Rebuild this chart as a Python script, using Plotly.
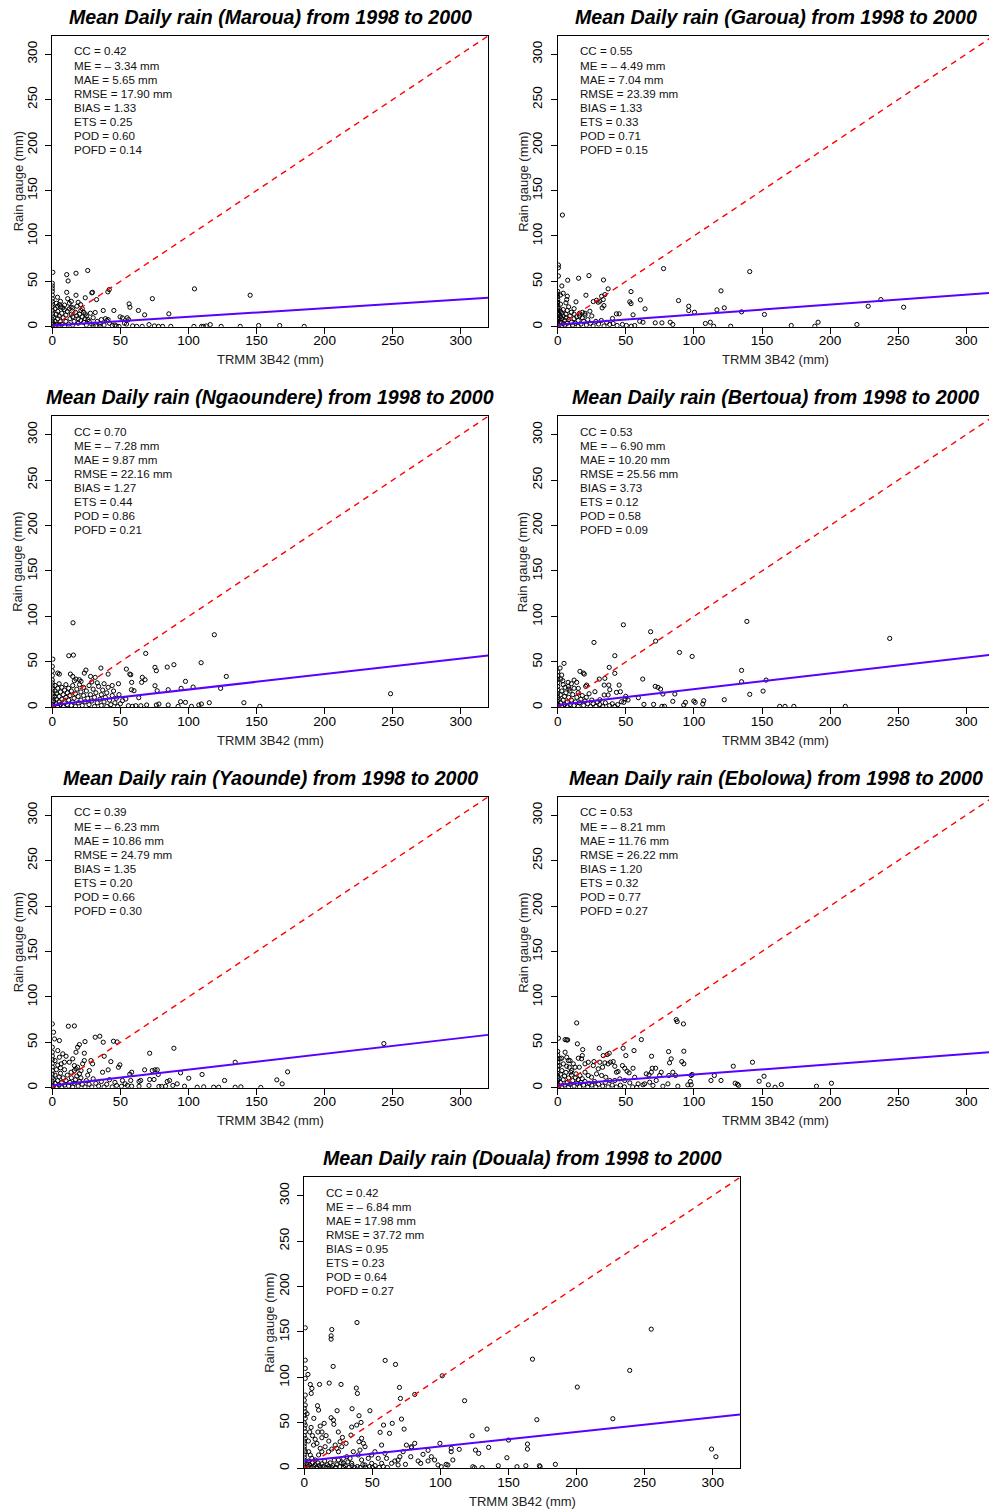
import plotly.graph_objects as go

# ---------------- data ----------------
stations = ["Maroua", "Garoua", "Ngaoundere", "Bertoua", "Yaounde", "Ebolowa", "Douala"]

maroua_pts = [(0.4,60),(10.6,57.5),(17.4,59),(26,62),(11.6,50.5),(0,48),(0,45),(0,42),(3.8,32.6),(10.6,38),(11.3,31),(12.5,26),
    (17.4,34.8),(24.2,32),(29,37.4),(29.5,38),(32.5,30),(41.8,41),(40.8,38.5),(56.4,25.3),(57,21.6),(63.2,18),(73.5,31),(85.6,14.3),
    (104.4,41.8),(145.3,34.8),(67.8,13.2),(49.8,11),(51.5,9.9),(45.2,18),(37.4,18),(31.5,15.8),(26.2,8),(24.2,14.3),(20.8,24.5),
    (18.1,22.7),(15,20.9),(13.8,21.6),(12.5,19.8),(7.7,20.9),(8.9,19),(5.2,24.5),(3.9,22.7),
    (104,0.5),(109.6,0.5),(111,0.5),(113,1),(116,2.5),(124,0.5),(138,0.5),(151.5,1.5),(167,1.5),(185,0.5),(71,2.5),(75,1),(78,0.5),
    (81,0.5),(87,0.5),(53,4),(54.5,3),(59,1),(46,2),(44,1.5),(39,9),(40,7),(41,8),(55,10),(56,8),(62,0.5),(66,0.5),(49,0.5),(35,0.5),(30,1),
    (0,0),(0,2),(0,5),(0,8),(0,12),(0,15),(0,18),(0,22),(0,25),(0,28),(0,31),(0,35),(0,39),(1,3),(1,10),(2,1),(2,6),(3,14),(3,3),(4,9),
    (4,17),(5,2),(5,12),(6,6),(6,28),(7,15),(7,3),(8,10),(9,24),(9,1),(10,6),(10,13),(11,17),(12,3),(13,9),(14,14),(15,2),(15,11),(16,6),
    (17,16),(18,12),(19,4),(19,9),(20,14),(21,7),(21,18),(22,11),(23,16),(23,5),(24,9),(25,2),(25,12),(27,6),(28,15),(29,3),(30,10),
    (32,1),(33,6),(35,3),(36,8),(38,2),(42,4),(47,1),(2,20),(6,22),(3,26),(14,28),(19,27),(22,20)]

garoua_pts = [(3.4,123),(0.5,68),(0.5,65),(0.5,56),(7.3,51.3),(15.3,53.5),(22.9,56.4),(33.6,51.6),(77.7,64.1),(141,60.8),(7,33.7),
    (6.6,30),(6,26.4),(13.4,27.5),(20.7,34.8),(28.5,29.3),(32.2,33.7),(33.4,30),(34.6,35.5),(37,41.8),(30.9,28.2),(29.7,27.1),(32.6,20.9),
    (33.9,23.4),(26.1,27.8),(23.6,17.2),(53.8,38.8),(52.9,27.5),(53.8,25.6),(60.7,29.7),(64.1,19.8),(55.3,13.2),(43.1,14.3),(45.1,14.3),
    (40.2,9.2),(88.7,28.9),(96.2,22.7),(96.2,17.9),(100.4,16.1),(119.9,39.6),(116.9,18.7),(122.3,20.9),(135,16.5),(151.8,13.6),(228,22.7),
    (237.3,30),(254,21.6),(191.2,5.1),(219.7,2.6),(171.5,1.5),(188.8,0.7),(127,0.7),(112,5.1),(108.4,3.7),(114.5,0.7),(82.6,5.1),(84.5,2.6),
    (76.5,4.4),(71.6,4.4),(62.6,5.1),(60.2,6.2),(56.5,1.5),(54,0.7),(50.4,1.5),(47.5,2.6),(43.6,1.5),(40.7,3.7),(38.2,2.6),
    (0,0),(0,3),(0,6),(0,9),(0,12),(0,15),(0,18),(0,21),(0,24),(0,27),(0,30),(0,33),(0,36),(0,39),(1,2),(1,8),(1,14),(1,20),(2,5),(2,11),
    (2,17),(2,25),(3,1),(3,9),(3,15),(4,4),(4,12),(4,19),(5,7),(5,2),(6,14),(6,10),(7,4),(7,18),(8,8),(8,1),(9,12),(10,5),(10,16),(11,2),
    (12,9),(12,14),(13,4),(14,11),(15,7),(15,1),(16,15),(17,3),(18,10),(19,6),(20,13),(21,2),(22,8),(24,4),(25,12),(26,1),(28,6),(30,3),
    (32,7),(34,1),(36,5),(4,37),(2,35),(3,45),(8,22),(12,20),(18,16),(20,15),(16,12)]

ngaoundere_pts = [(15.2,93),(12.1,56.8),(15.5,57.5),(0.4,53),(119,79.9),(68.6,59.3),(109.3,49.1),(75.4,44),(76.4,40.3),(84.4,44.3),
    (89.3,46.9),(54.4,42.1),(56.9,36.6),(57.6,35.9),(35.7,43.2),(24.7,41),(23.5,37.7),(41,36.6),(66.1,33),(68.1,30.4),(65.6,27.5),
    (58.3,27.5),(28.1,34),(31.5,33),(19.9,30.4),(21.1,28.6),(13.3,36.6),(15,34),(16.2,29.3),(17.4,31.1),(4,37.7),(5.2,36.6),(48.6,26),
    (58.1,19.4),(60,18.3),(75.4,23.8),(77,18.3),(85.1,19.4),(94.6,20.9),(97.8,28.6),(103.4,22.3),(123.6,20.9),(127.8,34),(63.5,10.6),
    (54,9.2),(51.5,7.3),(248.4,15),(140.7,5.1),(152.4,1.1),(115.3,5.1),(109.5,3.7),(107.6,2.6),(102.2,1.1),(97.8,5.5),(94.2,6.2),
    (92.4,1.1),(85.1,2.6),(78.3,3.7),(76.4,2.6),(69.3,2.6),(65,1.8),(61.3,1.8),(58.8,1.1),(55.9,1.8),
    (0,0),(0,3),(0,6),(0,9),(0,12),(0,15),(0,18),(0,21),(0,24),(0,27),(0,30),(0,35),(0,40),(0,45),(1,2),(1,7),(2,12),(2,18),(2,24),
    (3,4),(3,9),(3,15),(4,21),(4,1),(5,6),(5,12),(5,26),(6,17),(6,3),(7,9),(7,22),(8,14),(8,1),(9,5),(9,19),(10,11),(10,25),(11,3),
    (11,16),(12,8),(12,21),(13,13),(14,2),(14,18),(15,6),(15,24),(16,10),(17,15),(17,1),(18,20),(19,5),(19,12),(20,25),(21,8),(21,17),
    (22,2),(23,13),(23,22),(24,6),(25,18),(26,10),(27,3),(27,24),(28,14),(29,7),(30,20),(31,1),(31,11),(32,16),(33,5),(34,23),(35,9),
    (36,2),(36,14),(37,19),(38,6),(39,11),(40,1),(40,16),(41,22),(42,8),(43,3),(44,13),(45,18),(46,5),(47,10),(48,1),(49,14),(50,4),
    (44,24),(38,26),(33,27),(29,28)]

bertoua_pts = [(48.2,90.8),(138.9,94.5),(68.2,83.2),(26.6,71.4),(71.9,72.9),(243.8,75.8),(89.4,60.4),(98.7,56),(41.9,56.8),(4.6,48.4),
    (1.7,43.2),(37.8,44),(41.9,37.4),(16.3,39.6),(18.8,37.7),(19.5,36.6),(30.5,31.1),(34.6,31.9),(62.4,31.1),(135,40.7),(135,28.2),
    (153,30),(141,14.3),(150.8,17.9),(122.3,8.4),(107.2,7.3),(106.5,3.7),(100.9,5.5),(99.9,7),(93.8,5.5),(92.5,2.6),(84.5,6.6),(86,14.7),
    (77.2,14.7),(75.5,20.1),(73.6,22),(71.6,23.1),(70.4,3.3),(63.3,3.3),(59.2,10.6),(49.9,12.1),(49.5,9.2),(51.6,8.1),(46.8,6.2),
    (48.5,5.5),(45.1,24.5),(46,17.2),(43.1,16.5),(38.2,19.4),(37,13.6),(27.3,17.2),(30.9,8.4),(34.1,13.6),(34.1,24.5),(37.5,24.5),
    (163,1.1),(166.9,1.1),(173.4,1.1),(211.2,1.1),(78.4,1.1),(76.5,1.1),
    (21.2,24.5),(20.5,23.1),(13.9,27.5),(15.1,20.9),(7.6,27.5),(7.8,23.1),(8.3,20.1),(5.4,22),(3.7,29.3),(2.2,31.1),(2.9,35.5),
    (0,0),(0,3),(0,7),(0,11),(0,15),(0,19),(0,23),(0,27),(0,31),(0,35),(0,39),(1,2),(1,9),(2,5),(2,14),(3,1),(3,18),(4,8),(4,25),
    (5,3),(5,12),(6,16),(7,1),(7,6),(8,11),(9,3),(9,18),(10,8),(11,14),(12,2),(12,21),(13,6),(14,11),(15,1),(15,16),(16,5),(17,9),
    (18,13),(19,2),(20,7),(21,11),(22,4),(23,15),(24,1),(25,8),(26,4),(28,1),(29,6),(31,3),(33,1),(35,5),(38,2),(40,4),(42,1),(44,3),
    (10,26),(12,30)]

yaounde_pts = [(0,70.3),(0.9,61.2),(1.6,53.8),(0,44.7),(0,39.2),(11.8,67.8),(16.2,68.1),(5.2,52),(24,50.9),(19.9,47.6),(18.6,44.7),
    (17.4,39.2),(23.5,38.1),(31.5,55.7),(34.9,56.8),(37.4,50.2),(44.9,51.3),(47.6,50.5),(71.5,38.1),(89.3,43.6),(243.5,48.7),
    (134.3,28.2),(172.8,17.6),(164.9,8.8),(168.8,4.4),(126.5,8.1),(110,14.7),(100.2,10.6),(94.2,16.5),(73.4,19),(75.4,19.8),
    (77.1,19.8),(77.8,14.7),(67.8,19.8),(58.3,17.2),(56.9,15),(71.5,9.2),(74.7,9.2),(64.9,8.1),(63.7,7),(57.6,8.1),(84.4,7),(86.1,8.1),
    (91.7,4.4),(97.1,1.8),(106.4,0.7),(111.2,1.1),(118.5,0.7),(122.2,0.7),(134.3,0.7),(138.5,1.1),(153.1,0.4),(49.6,25.3),(48.6,22.7),
    (43,28.9),(41,19.8),(38.1,34.8),(36.9,17.2),(28.4,30),(29.6,26.4),(27.2,19),(51.5,8.1),(53.5,4.4),(50.8,1.8),(47.2,2.6),(71,2.6),
    (78.3,1.5),(80.3,1.5),(83.2,1.8),(88.5,2.6),(63.7,1.8),(58.3,1.8),(55.2,2.6),
    (23.5,30),(22.3,26.4),(18.6,22.7),(16.2,19),(13.8,17.2),(21.1,19),(19.9,15.4),(4,41),(7.7,37.4),(10.1,34.8),(5.2,33.7),(6.5,26.4),
    (8.9,28.2),(12.5,28.2),(15,31.9),(16.2,24.5),(17.4,20.9),
    (0,0),(0,3),(0,7),(0,11),(0,15),(0,19),(0,23),(0,27),(0,31),(0,35),(1,2),(1,9),(2,5),(2,14),(3,1),(3,20),(4,8),(4,25),(5,3),(5,12),
    (6,16),(7,1),(7,6),(8,11),(9,3),(9,20),(10,8),(11,14),(12,2),(13,6),(14,11),(15,1),(16,5),(17,9),(18,13),(19,2),(20,7),(21,11),
    (22,4),(24,1),(25,8),(26,14),(27,4),(29,1),(30,10),(32,5),(34,2),(36,7),(38,1),(40,4),(42,9),(44,1),(46,6),(2,30),(6,22)]

ebolowa_pts = [(13.9,71.4),(87,75.1),(87.7,72.9),(92.3,70.3),(0.5,54.6),(5.4,53.1),(6.6,52.7),(7.3,52.7),(14.4,48.4),(61.4,53.1),
    (30.5,43.6),(48,43.6),(56,41),(50,35.5),(68.9,34.8),(81.4,39.9),(92.6,40.3),(91.1,28.9),(92.6,26.4),(143,28.2),(128.9,23.8),
    (151.5,12.8),(147.9,7.3),(112.5,8.1),(115,13.6),(119.9,8.1),(97.9,13.6),(98.7,14.7),(190,1.8),(201,5.1),(164.2,3.7),(159.6,0.7),
    (154.7,3.3),(130.3,5.1),(132,4),(132.8,2.6),(97.4,7),(95.5,3.3),(98,3.3),(82.1,27.5),(83.3,31.9),(84.5,17.2),(86.5,13.6),(81.6,13.6),
    (71.9,21.6),(69.4,21.6),(67,14.3),(65,15.4),(68.7,17.2),(76,17.2),(74.8,13.6),(72.3,8.1),(67.5,6.2),(63.8,4.4),(56.5,11.7),
    (55.3,21.6),(50.9,18.3),(52.4,16.5),(49.2,21.6),(47.5,24.5),(40.7,28.9),(41.9,23.8),(43.1,17.2),(44.3,17.9),(38.7,28.2),(37,26.4),
    (37.8,38.1),(36.3,36.6),(33.4,35.5),(34.6,27.5),(32.9,22.7),(30.9,28.2),(29.7,20.9),(26.1,24.5),(26.6,28.9),(22.4,28.2),(20,26.4),
    (18.3,42.1),(18,35.5),(17.5,31.9),(15.1,32.6),(15.8,22.7),(12.7,22.7),(11.4,26.4),(10.2,19),(8.5,22.7),(7.8,30),(6.6,33.7),
    (5.4,39.2),(2.9,32.6),(1.7,31.9),(1.2,24.5),(4.1,26.4),(6.6,23.8),(9,30),(9.5,17.2),(13.4,15.4),(16.3,13.6),(20,17.2),(22.4,13.6),
    (24.8,11.7),(28.5,15.4),(32.2,13.6),(35.3,11.7),(38.2,8.1),(41.9,8.1),(45.6,9.9),(49.2,8.1),(52.9,5.5),(59,4.4),(62.6,3.3),
    (69.9,2.6),(77.2,1.8),(80.9,4.4),(88.2,1.8),
    (0,0),(0,4),(0,8),(0,12),(0,16),(0,20),(0,24),(0,28),(0,32),(0,36),(0,40),(1,2),(1,10),(2,6),(2,15),(3,1),(3,19),(4,9),(5,3),
    (5,13),(6,17),(7,6),(8,1),(8,11),(9,4),(10,14),(11,8),(12,2),(13,11),(14,5),(15,9),(16,1),(17,6),(18,10),(19,3),(20,7),(22,1),
    (23,5),(25,3),(27,7),(28,1),(30,4),(33,2),(35,6),(37,1),(40,3),(43,1),(46,3),(49,1),(55,1),(58,0.5)]

douala_pts = [(0.7,154.6),(38.7,160.4),(20.2,152.7),(19.7,145.8),(19.7,142.1),(254.8,153.1),(167.6,120.1),(239,107.7),(200.5,89.4),
    (226.6,54.6),(170.8,53.5),(117.7,74.4),(101.3,101.8),(81.1,81.3),(59.4,118.7),(67,114.3),(69.9,89),(70.6,76.9),(71.4,54.2),
    (73.3,43.2),(58.2,47.6),(62.6,38.5),(64.6,49.5),(55.7,39.6),(56.8,25.6),(21.2,112.1),(2.7,103.3),(4.4,92.3),(5.6,87.9),(5.1,82.4),
    (11.2,92.3),(18.3,93.8),(27,92.3),(24.1,63.4),(9.7,68.9),(10.5,64.1),(38.2,88.3),(39,82.4),(35.1,65.6),(40.2,57.9),(48.2,63.4),
    (41.7,50.5),(38.5,47.6),(34.8,45.4),(34.3,36.6),(19.7,55.7),(21.4,53.1),(21.7,48.4),(14.6,49.5),(11.7,46.5),(12.9,33.7),(0.7,62.3),
    (0.7,54.9),(0.7,47.6),(0.7,40.3),(0.7,33),(0.7,18.3),(0.7,98.9),(0.7,109.9),(0.7,119),(0.7,80.6),(0.7,69.6),(123.3,35.9),
    (134.2,43.2),(125.7,20.1),(128.1,16.5),(135.4,23.1),(113.8,20.9),(99.6,27.5),(107.9,22),(107.9,18.3),(109.1,9.2),(150,31.1),
    (148.8,11.7),(163.9,26.7),(163.9,21.2),(299.1,21.2),(302.3,12.8),(184.4,4.4),(172.7,2.9),(173.2,1.8),(162.7,2.9),(156.2,1.8),
    (142.5,2.9),(130.6,0.7),(123.8,1.8),(125,0.7),(90.9,19.8),(87.2,15.4),(95.7,9.2),(93.3,12.8),(90.9,8.1),(98.2,3.7),(100.6,1.8),
    (105.5,3.7),(104.2,4.4),(78.7,23.8),(78.7,22.7),(81.1,27.5),(75,25.6),(72.6,18.3),(68.9,9.2),(70.2,12.8),(78.2,12.8),(83.6,8.1),
    (85.5,5.5),(74.3,4.4),(68.9,3.7),(66.5,8.1),(64.1,5.5),
    (42.1,33),(40.2,29.3),(43.4,27.5),(44.6,23.8),(40.9,20.1),(36,18.3),(39.7,14.7),(33.6,11),(31.2,12.8),(28.7,11),(25.1,18.3),
    (27.5,23.8),(30.7,27.5),(26.3,29.3),(22.7,25.6),(23.9,22),(20.2,21.2),(17.8,18.3),(15.3,23.8),(12.9,18.3),(10.5,14.7),(8,9.2),
    (5.6,11),(4.4,14.7),(3.2,18.3),(6.8,25.6),(9.3,27.5),(11.7,22),(25.1,9.2),(28.7,5.5),(34.8,5.5),(42.1,9.2),(47,11),(49.5,14.7),
    (51.9,18.3),(54.3,11),(49.5,5.5),(44.6,3.7),(59.2,16.5),(60.4,11),(56.8,5.5),
    (0,0),(0,3),(0,6),(0,9),(0,12),(0,15),(0,21),(0,24),(0,27),(0,30),(0,36),(0,44),(0,50),(0,58),(0,66),(0,75),(1,1),(2,5),(3,2),
    (3,8),(4,4),(5,1),(6,6),(7,2),(8,4),(9,1),(10,6),(11,3),(12,1),(13,5),(14,2),(15,8),(16,1),(17,4),(18,2),(19,6),(20,1),(21,3),
    (22,9),(23,1),(24,4),(26,2),(27,6),(29,1),(30,3),(32,7),(33,1),(35,3),(37,1),(39,2),(41,1),(43,4),(45,1),(48,2),(50,1),(52,3),
    (55,1),(58,2),(61,1),(4,40),(6,36),(3,30),(8,32),(5,45),(10,40),(2,60),(7,55),(13,40),(16,36),(25,40),(28,34),(18,30)]

# regression line (intercept, slope) per station
fit_intercept = [1.5, 2.5, 2.6, 2.6, 2.6, 3.3, 8.0]
fit_slope = [0.095, 0.11, 0.17, 0.174, 0.174, 0.113, 0.16]
one_to_one = [0, 320]
axis_max = 320

cc = ["0.42", "0.55", "0.70", "0.53", "0.39", "0.53", "0.42"]
me = ["3.34", "4.49", "7.28", "6.90", "6.23", "8.21", "6.84"]
mae = ["5.65", "7.04", "9.87", "10.20", "10.86", "11.76", "17.98"]
rmse = ["17.90", "23.39", "22.16", "25.56", "24.79", "26.22", "37.72"]
bias = ["1.33", "1.33", "1.27", "3.73", "1.35", "1.20", "0.95"]
ets = ["0.25", "0.33", "0.44", "0.12", "0.20", "0.32", "0.23"]
pod = ["0.60", "0.71", "0.86", "0.58", "0.66", "0.77", "0.64"]
pofd = ["0.14", "0.15", "0.21", "0.09", "0.30", "0.27", "0.27"]

tick_vals = [0, 50, 100, 150, 200, 250, 300]
tick_text = ["0", "50", "100", "150", "200", "250", "300"]

all_pts = [maroua_pts, garoua_pts, ngaoundere_pts, bertoua_pts, yaounde_pts, ebolowa_pts, douala_pts]

# ---------------- layout geometry (pixels) ----------------
W, H = 989, 1510
FONT = "Liberation Sans, Arial, Helvetica, sans-serif"
row_top = [36, 417, 798, 1179]
PH = 291.3
PXU = 437.5 / 320.0  # pixels per data unit (x)
panels = [  # (left px, right px (visible), row)
    (48.5, 486.0, 0), (556.0, 989.0, 0),
    (48.5, 486.0, 1), (556.0, 989.0, 1),
    (48.5, 486.0, 2), (556.0, 989.0, 2),
    (301.5, 739.0, 3),
]

fig = go.Figure()
annotations = []
layout_axes = {}

def px2fx(px):
    return px / W

def py2fy(py):
    return 1 - py / H

for i, name in enumerate(stations):
    left, right, row = panels[i]
    top = row_top[row]
    bottom = top + PH
    full_right = left + 437.5
    xr = (right - left) / PXU
    ax = "" if i == 0 else str(i + 1)
    xa, ya = "x" + ax, "y" + ax
    right_cut = right >= W - 0.5

    layout_axes["xaxis" + ax] = dict(
        domain=[px2fx(left), px2fx(right)], anchor=ya, range=[0, xr],
        showgrid=False, zeroline=False, showline=True, linecolor="black", linewidth=1,
        mirror=True, ticks="outside", ticklen=6, tickwidth=1, tickcolor="black",
        tickvals=tick_vals, ticktext=tick_text, ticklabelstandoff=-5,
        tickfont=dict(family=FONT, size=13.6, color="black"),
    )
    layout_axes["yaxis" + ax] = dict(
        domain=[py2fy(bottom), py2fy(top)], anchor=xa, range=[0, axis_max],
        showgrid=False, zeroline=False, showline=True, linecolor="black", linewidth=1,
        mirror=(not right_cut), ticks="outside", ticklen=6, tickwidth=1, tickcolor="black",
        tickvals=tick_vals, ticktext=tick_text, tickangle=-90, ticklabelstandoff=3,
        tickfont=dict(family=FONT, size=13.6, color="black"),
    )

    pts = all_pts[i]
    fig.add_trace(go.Scatter(
        x=[p[0] for p in pts], y=[p[1] for p in pts], mode="markers",
        marker=dict(symbol="circle-open", size=4.2, color="black", line=dict(width=1, color="black")),
        xaxis=xa, yaxis=ya, showlegend=False, hoverinfo="skip",
    ))
    fig.add_trace(go.Scatter(
        x=one_to_one, y=one_to_one, mode="lines",
        line=dict(color="#ff0000", width=1.4, dash="6px,5px"),
        xaxis=xa, yaxis=ya, showlegend=False, hoverinfo="skip",
    ))
    fx = [0, axis_max]
    fy = [fit_intercept[i] + fit_slope[i] * v for v in fx]
    fig.add_trace(go.Scatter(
        x=fx, y=fy, mode="lines", line=dict(color="#5a00ff", width=2),
        xaxis=xa, yaxis=ya, showlegend=False, hoverinfo="skip",
    ))

    cx = (left + full_right) / 2
    # title
    annotations.append(dict(
        text=f"<b><i>Mean Daily rain ({name}) from 1998 to 2000</i></b>",
        x=px2fx(cx), y=py2fy(top - 19), xref="paper", yref="paper",
        xanchor="center", yanchor="middle", showarrow=False,
        font=dict(family=FONT, size=19.6, color="black"),
    ))
    # axis titles
    annotations.append(dict(
        text="TRMM 3B42 (mm)", x=px2fx(cx), y=py2fy(bottom + 33), xref="paper", yref="paper",
        xanchor="center", yanchor="middle", showarrow=False,
        font=dict(family=FONT, size=13, color="#222"),
    ))
    annotations.append(dict(
        text="Rain gauge (mm)", x=px2fx(left - 34.5), y=py2fy((top + bottom) / 2), xref="paper", yref="paper",
        xanchor="center", yanchor="middle", showarrow=False, textangle=-90,
        font=dict(family=FONT, size=13, color="#222"),
    ))
    # stats
    lines = [f"CC = {cc[i]}", f"ME = \u2013 {me[i]} mm", f"MAE = {mae[i]} mm", f"RMSE = {rmse[i]} mm",
             f"BIAS = {bias[i]}", f"ETS = {ets[i]}", f"POD = {pod[i]}", f"POFD = {pofd[i]}"]
    for k, t in enumerate(lines):
        annotations.append(dict(
            text=t, x=px2fx(left + 20), y=py2fy(top + 15 + 14.1 * k), xref="paper", yref="paper",
            xanchor="left", yanchor="middle", showarrow=False,
            font=dict(family=FONT, size=11.6, color="#111"),
        ))

fig.update_layout(
    width=W, height=H, margin=dict(l=0, r=0, t=0, b=0),
    paper_bgcolor="white", plot_bgcolor="white",
    annotations=annotations, showlegend=False, **layout_axes,
)

fig.write_html(
    "out.html",
    config={"displayModeBar": False},
    post_script="document.body.style.margin='0px';document.body.style.padding='0px';document.body.style.overflow='hidden';",
)
